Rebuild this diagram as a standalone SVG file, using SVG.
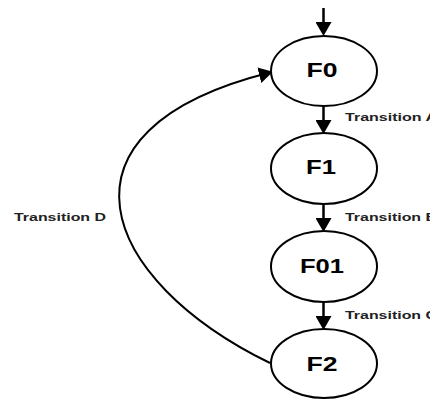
<svg xmlns="http://www.w3.org/2000/svg" width="430" height="399" viewBox="0 0 430 399">
<style>
.node ellipse{fill:#fff;stroke:#000;stroke-width:2}
.node text{font-family:"Liberation Sans",Arial,sans-serif;font-weight:bold;font-size:19.5px;fill:#000;text-anchor:middle}
.lbl{font-family:"Liberation Sans",Arial,sans-serif;font-weight:bold;font-size:11px;fill:#222}
.edge{fill:none;stroke:#000;stroke-width:2.5}
</style>
<defs>
<marker id="ah" markerUnits="userSpaceOnUse" markerWidth="14" markerHeight="16" refX="11" refY="8" orient="auto" viewBox="0 0 14 16">
<path d="M0,0 L14,8 L0,16 z" fill="#000"/>
</marker>
</defs>
<g id="connectors">
<path class="edge" d="M323.5,8 L323.5,33" marker-end="url(#ah)"/>
<path class="edge" d="M323.5,106 L323.5,131" marker-end="url(#ah)"/>
<path class="edge" d="M323.5,204 L323.5,229" marker-end="url(#ah)"/>
<path class="edge" d="M323.5,302 L323.5,327" marker-end="url(#ah)"/>
<path class="edge" d="M270,363 C100,280 40,130 270,72.5" marker-end="url(#ah)" style="stroke-width:2"/>
<text class="lbl" x="345" y="120.5" textLength="92" lengthAdjust="spacingAndGlyphs">Transition A</text>
<text class="lbl" x="345" y="221" textLength="92" lengthAdjust="spacingAndGlyphs">Transition B</text>
<text class="lbl" x="345" y="318.5" textLength="92" lengthAdjust="spacingAndGlyphs">Transition C</text>
<text class="lbl" x="14" y="220.5" textLength="92" lengthAdjust="spacingAndGlyphs">Transition D</text>
</g>
<g id="F0" class="node"><ellipse cx="324" cy="71" rx="53" ry="35"/><text x="322" y="77" textLength="31" lengthAdjust="spacingAndGlyphs">F0</text></g>
<g id="F1" class="node"><ellipse cx="324" cy="168.5" rx="53" ry="35.5"/><text x="321" y="174" textLength="30" lengthAdjust="spacingAndGlyphs">F1</text></g>
<g id="F01" class="node"><ellipse cx="324" cy="266.5" rx="53" ry="35.5"/><text x="322" y="273" textLength="44" lengthAdjust="spacingAndGlyphs">F01</text></g>
<g id="F2" class="node"><ellipse cx="324" cy="363.5" rx="53" ry="34.5"/><text x="322" y="371" textLength="31" lengthAdjust="spacingAndGlyphs">F2</text></g>
</svg>
